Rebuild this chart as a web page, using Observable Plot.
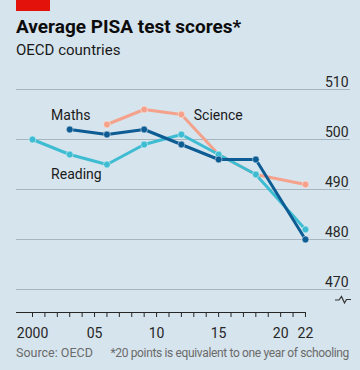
<!DOCTYPE html>
<html><head><meta charset="utf-8">
<script src="https://cdn.jsdelivr.net/npm/d3@7"></script>
<script src="https://cdn.jsdelivr.net/npm/@observablehq/plot@0.6"></script>
<style>
body{margin:0;background:#D6E4ED;}
#wrap{position:relative;width:360px;height:370px;overflow:hidden;font-family:Roboto,"Noto Sans",sans-serif;background:#D6E4ED;color:#111;}
.red{position:absolute;left:16px;top:0;width:34px;height:11px;background:#E3120B;}
.title{position:absolute;left:16px;top:17px;font-weight:700;font-size:19px;line-height:19px;white-space:nowrap;color:#0C0C0C;}
.sub{position:absolute;left:16px;top:43px;font-size:15px;line-height:15px;white-space:nowrap;color:#1a1a1a;}
#chart{position:absolute;left:0;top:62px;}
.src{position:absolute;left:16px;top:347px;font-size:12.5px;line-height:12px;color:#6b6b6b;white-space:nowrap;}
.note{position:absolute;right:11px;top:347px;font-size:12px;line-height:12px;letter-spacing:-0.35px;color:#6b6b6b;white-space:nowrap;}
.brk{position:absolute;left:334px;top:294px;}
</style></head>
<body>
<div id="wrap">
  <div class="red"></div>
  <div class="title">Average PISA test scores*</div>
  <div class="sub">OECD countries</div>
  <div id="chart"></div>
  <svg class="brk" width="20" height="12"><polyline points="1,6 5,6 7.5,2.5 10.5,9 12.5,5.5 17,5.5" fill="none" stroke="#333" stroke-width="1.2"/></svg>
  <div class="src">Source: OECD</div>
  <div class="note">*20 points is equivalent to one year of schooling</div>
</div>
<script>
const years   = [2000, 2003, 2006, 2009, 2012, 2015, 2018, 2022];
const reading = [500, 497, 495, 499, 501, 497, 493, 482];
const maths   = [null, 502, 501, 502, 499, 496, 496, 480];
const science = [null, null, 503, 506, 505, 497, 493, 491];

const seriesNames = ["Science", "Reading", "Maths"];
const seriesValues = {Science: science, Reading: reading, Maths: maths};

const yTicks = [470, 480, 490, 500, 510];
const xTickValues = [2000, 2005, 2010, 2015, 2020, 2022];
const xTickLabels = ["2000", "05", "10", "15", "20", "22"];

const labelNames = ["Maths", "Reading", "Science"];
const labelYears = [2001.5, 2001.5, 2013.0];
const labelScores = [503.9, 492.1, 504.0];

const colors = {Science: "#F4A28B", Reading: "#3EBCD2", Maths: "#0D5C94"};

const xDomain = [1998.71, 2025.63];
const yDomain = [465.4, 510];

const rows = seriesNames.flatMap(s =>
  years.map((yr, i) => ({series: s, year: yr, value: seriesValues[s][i]}))
       .filter(d => d.value != null));

const labels = labelNames.map((n, i) => ({name: n, year: labelYears[i], value: labelScores[i]}));

const marks = [
  Plot.ruleY(yTicks, {stroke: "#A7B5BE", strokeWidth: 1}),
  Plot.ruleY([yDomain[0]], {x1: xDomain[0], x2: d3.max(years), stroke: "#262626", strokeWidth: 1}),
  Plot.axisX({
    ticks: d3.range(d3.min(years), d3.max(years) + 1),
    tickSize: 5, tickPadding: 11, stroke: "#262626",
    tickFormat: d => { const i = xTickValues.indexOf(d); return i >= 0 ? xTickLabels[i] : ""; },
    fill: "#262626", label: null
  }),
  Plot.text(yTicks, {y: d => d, frameAnchor: "right", textAnchor: "end", lineAnchor: "bottom", dx: -2, dy: -3, text: d => String(d), fill: "#262626"})
];
for (const s of seriesNames) {
  const data = rows.filter(d => d.series === s);
  marks.push(Plot.line(data, {x: "year", y: "value", stroke: colors[s], strokeWidth: 3}));
  marks.push(Plot.dot(data, {x: "year", y: "value", r: 3.4, fill: colors[s], stroke: "#ffffff", strokeOpacity: 0.45, strokeWidth: 1}));
}
marks.push(Plot.text(labels, {x: "year", y: "value", text: "name", textAnchor: "start", lineAnchor: "bottom", fill: "#1a1a1a", fontSize: 14}));

const plot = Plot.plot({
  width: 360, height: 280,
  marginLeft: 16, marginRight: 10, marginTop: 27, marginBottom: 30,
  x: {domain: xDomain, axis: null},
  y: {domain: yDomain, axis: null},
  style: {background: "transparent", fontFamily: "Roboto, 'Noto Sans', sans-serif", fontSize: "14px", color: "#262626", overflow: "visible"},
  marks
});
document.getElementById("chart").appendChild(plot);
</script>
</body></html>
